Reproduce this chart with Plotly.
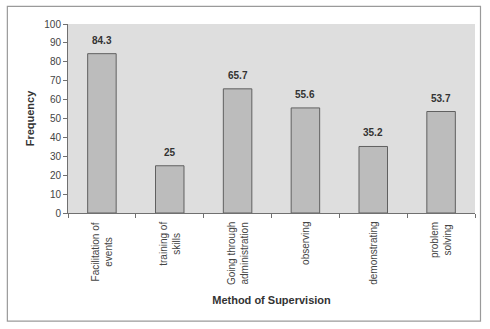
import plotly.graph_objects as go

# Supervision methods and the frequency reported for each
methods = [
    "Facilitation of<br>events",
    "training of<br>skills",
    "Going through<br>administration",
    "observing",
    "demonstrating",
    "problem<br>solving",
]
frequency = [84.3, 25, 65.7, 55.6, 35.2, 53.7]
value_labels = ["84.3", "25", "65.7", "55.6", "35.2", "53.7"]
y_ticks = list(range(0, 101, 10))

font_family = "Liberation Sans, Arial, sans-serif"

fig = go.Figure()
fig.add_trace(
    go.Bar(
        x=methods,
        y=frequency,
        marker=dict(color="#bcbcbc", line=dict(color="#606060", width=1)),
        width=0.42,
        hoverinfo="y",
    )
)

# value labels above each bar
for m, v, t in zip(methods, frequency, value_labels):
    fig.add_annotation(
        x=m, y=v, text=f"<b>{t}</b>", showarrow=False,
        yanchor="bottom", yshift=6,
        font=dict(family=font_family, size=10, color="#333333"),
    )

# rotated category labels, lines centred on each other
for m in methods:
    fig.add_annotation(
        x=m, xref="x", y=0, yref="paper", text=m, showarrow=False,
        textangle=-90, align="center",
        xanchor="center", yanchor="top", yshift=-7,
        font=dict(family=font_family, size=10, color="#444444"),
    )

# outer frame around the whole chart
fig.add_shape(
    type="rect", xref="paper", yref="paper",
    x0=-0.149, x1=1.0135, y0=-0.572, y1=1.093,
    line=dict(color="#9a9a9a", width=1.2), fillcolor="rgba(0,0,0,0)",
    layer="below",
)

fig.update_layout(
    width=490, height=329,
    margin=dict(l=68, r=15, t=24, b=116),
    paper_bgcolor="white",
    plot_bgcolor="#dedede",
    showlegend=False,
    font=dict(family=font_family, color="#333333"),
    xaxis=dict(
        type="category",
        showticklabels=False,
        tickson="boundaries",
        ticks="outside", ticklen=4, tickcolor="#707070",
        showline=True, linecolor="#707070", linewidth=1,
        showgrid=False,
        title=dict(text="<b>Method of Supervision</b>", standoff=83,
                   font=dict(family=font_family, size=11, color="#333333")),
    ),
    yaxis=dict(
        range=[0, 100],
        tickvals=y_ticks,
        ticks="outside", ticklen=4, tickcolor="#707070",
        showline=True, linecolor="#707070", linewidth=1,
        showgrid=False, zeroline=False,
        tickfont=dict(family=font_family, size=10, color="#444444"),
        title=dict(text="<b>Frequency</b>", standoff=7,
                   font=dict(family=font_family, size=11, color="#333333")),
    ),
)

fig.write_html("out.html")
